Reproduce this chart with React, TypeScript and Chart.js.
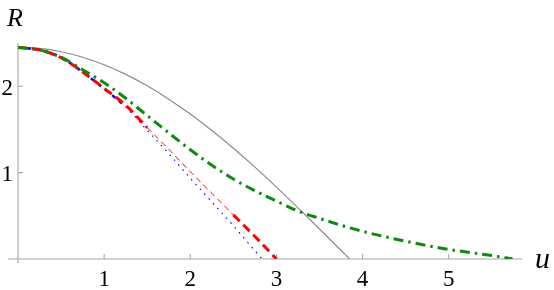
import React, { useEffect, useRef } from "react";
import { Chart, registerables } from "chart.js";

Chart.register(...registerables);

// ---- data ----
const uGray = [0, 0.25, 0.5, 0.75, 1, 1.25, 1.5, 1.75, 2, 2.25, 2.5, 2.75, 3, 3.25, 3.5, 3.75, 3.85];
const rGray = [2.449, 2.437, 2.399, 2.335, 2.248, 2.137, 2.004, 1.85, 1.677, 1.487, 1.281, 1.063, 0.832, 0.592, 0.347, 0.098, 0];

const uRed = [0, 0.25, 0.5, 0.75, 1, 1.25, 1.5, 1.75, 2, 2.25, 2.5, 2.75, 3];
const rRed = [2.449, 2.42, 2.33, 2.165, 1.975, 1.78, 1.52, 1.27, 1.01, 0.76, 0.51, 0.26, 0];

const uBlue = [0, 0.25, 0.5, 0.75, 1, 1.25, 1.5, 1.75, 2, 2.25, 2.5, 2.75, 2.835];
const rBlue = [2.449, 2.42, 2.33, 2.165, 1.97, 1.76, 1.49, 1.22, 0.935, 0.66, 0.385, 0.095, 0];

const uGreen = [0, 0.25, 0.5, 0.75, 1, 1.25, 1.5, 1.75, 2, 2.25, 2.5, 2.75, 3, 3.25, 3.5, 3.75, 4, 4.25, 4.5, 4.75, 5, 5.25, 5.5, 5.74];
const rGreen = [2.449, 2.42, 2.335, 2.19, 2.04, 1.86, 1.66, 1.46, 1.265, 1.085, 0.925, 0.79, 0.67, 0.555, 0.47, 0.39, 0.32, 0.26, 0.205, 0.155, 0.11, 0.075, 0.04, 0];

const xTicks = [1, 2, 3, 4, 5];
const xTickLabels = ["1", "2", "3", "4", "5"];
const yTicks = [1, 2];
const yTickLabels = ["1", "2"];
const xAxisLabel = "u";
const yAxisLabel = "R";

const X_MAX = 5.85;
const Y_MAX = 2.5;

const toPts = (us: number[], rs: number[]) => us.map((u, i) => ({ x: u, y: rs[i] }));

const axesPlugin = {
  id: "mmaAxes",
  beforeDatasetsDraw(chart: any) {
    const ctx = chart.ctx;
    const xs = chart.scales.x;
    const ys = chart.scales.y;
    const x0 = xs.getPixelForValue(0);
    const y0 = ys.getPixelForValue(0);
    const xEnd = xs.getPixelForValue(X_MAX);
    const yTop = ys.getPixelForValue(Y_MAX);
    ctx.save();
    ctx.strokeStyle = "#a6a6a6";
    ctx.lineWidth = 1.1;
    ctx.beginPath();
    ctx.moveTo(x0 - 10, y0);
    ctx.lineTo(xEnd, y0);
    ctx.moveTo(x0, y0 + 4);
    ctx.lineTo(x0, yTop);
    ctx.stroke();
    ctx.beginPath();
    xTicks.forEach((t) => {
      const px = xs.getPixelForValue(t);
      ctx.moveTo(px, y0);
      ctx.lineTo(px, y0 - 5);
    });
    yTicks.forEach((t) => {
      const py = ys.getPixelForValue(t);
      ctx.moveTo(x0, py);
      ctx.lineTo(x0 + 5, py);
    });
    ctx.stroke();
    ctx.restore();
  },
  afterDraw(chart: any) {
    const ctx = chart.ctx;
    const xs = chart.scales.x;
    const ys = chart.scales.y;
    const x0 = xs.getPixelForValue(0);
    const y0 = ys.getPixelForValue(0);
    const xEnd = xs.getPixelForValue(X_MAX);
    ctx.save();
    ctx.fillStyle = "#000";
    ctx.font = "23px 'Liberation Serif'";
    ctx.textAlign = "center";
    ctx.textBaseline = "alphabetic";
    xTicks.forEach((t, i) => {
      ctx.fillText(xTickLabels[i], xs.getPixelForValue(t), y0 + 27);
    });
    ctx.textAlign = "right";
    yTicks.forEach((t, i) => {
      ctx.fillText(yTickLabels[i], x0 - 5, ys.getPixelForValue(t) + 8.5);
    });
    ctx.font = "italic 26px 'Liberation Serif'";
    ctx.textAlign = "left";
    ctx.fillText(yAxisLabel, 7, 26);
    ctx.font = "italic 30px 'Liberation Serif'";
    ctx.fillText(xAxisLabel, xEnd + 13, y0 + 9);
    ctx.restore();
  },
};

export default function App() {
  const ref = useRef<HTMLCanvasElement | null>(null);
  useEffect(() => {
    const prevMargin = document.body.style.margin;
    document.body.style.margin = "0";
    const canvas = ref.current;
    if (!canvas) return;
    const chart = new Chart(canvas, {
      type: "scatter",
      data: {
        datasets: [
          {
            label: "green",
            data: toPts(uGreen, rGreen),
            showLine: true,
            borderColor: "#0f8a0f",
            borderWidth: 3,
            borderDash: [10, 5, 2.5, 5],
            pointRadius: 0,
            cubicInterpolationMode: "monotone",
          },
          {
            label: "red",
            data: toPts(uRed, rRed),
            showLine: true,
            borderColor: "#ff0000",
            borderWidth: 3,
            borderDash: [9, 5],
            pointRadius: 0,
            cubicInterpolationMode: "monotone",
            segment: {
              borderWidth: (c: any) => (c.p0.parsed.x >= 1.49 && c.p0.parsed.x < 2.49 ? 1 : 3),
              borderDash: (c: any) => (c.p0.parsed.x >= 1.49 && c.p0.parsed.x < 2.49 ? [6, 4] : [9, 5]),
            },
          },
          {
            label: "blue",
            data: toPts(uBlue, rBlue),
            showLine: true,
            borderColor: "#0000ff",
            borderWidth: 2.5,
            borderDash: [4, 5],
            pointRadius: 0,
            cubicInterpolationMode: "monotone",
            segment: {
              borderWidth: (c: any) => (c.p0.parsed.x >= 1.24 ? 1.2 : 2.5),
              borderDash: (c: any) => (c.p0.parsed.x >= 1.24 ? [1.5, 5] : [4, 5]),
            },
          },
          {
            label: "gray",
            data: toPts(uGray, rGray),
            showLine: true,
            borderColor: "#8c8c8c",
            borderWidth: 1.2,
            pointRadius: 0,
            cubicInterpolationMode: "monotone",
          },
        ],
      },
      options: {
        animation: false,
        responsive: false,
        layout: { padding: { left: 18, right: 32, top: 43, bottom: 31 } },
        plugins: { legend: { display: false }, tooltip: { enabled: false } },
        scales: {
          x: { type: "linear", min: 0, max: X_MAX, display: false },
          y: { type: "linear", min: 0, max: Y_MAX, display: false },
        },
      },
      plugins: [axesPlugin],
    });
    return () => {
      chart.destroy();
      document.body.style.margin = prevMargin;
    };
  }, []);
  return (
    <div style={{ position: "absolute", left: 0, top: 0, width: 554, height: 290 }}>
      <canvas ref={ref} width={554} height={290} style={{ display: "block" }} />
    </div>
  );
}
